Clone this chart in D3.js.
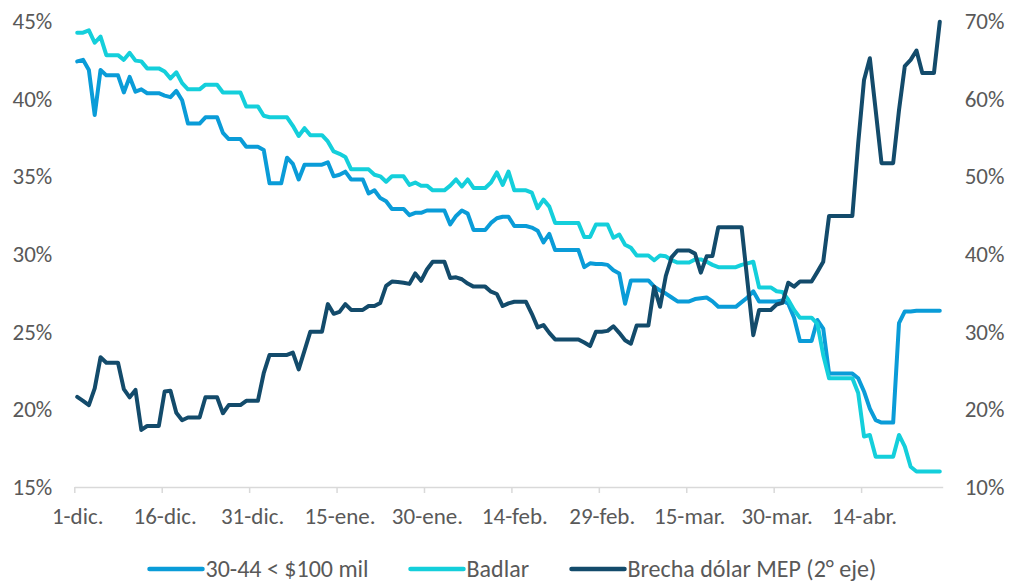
<!DOCTYPE html>
<html>
<head>
<meta charset="utf-8">
<script src="https://cdn.jsdelivr.net/npm/d3@7/dist/d3.min.js"></script>
<style>
  body { margin: 0; background: #fff; }
  svg text { font-family: Carlito, Calibri, Lato, sans-serif; fill: #595959; }
</style>
</head>
<body>
<svg id="chart" width="1011" height="585"></svg>
<script>
// daily values from 1-dic. (index 0) to 28-abr. (index 148)
const tickLabels = ["1-dic.", "16-dic.", "31-dic.", "15-ene.", "30-ene.", "14-feb.", "29-feb.", "15-mar.", "30-mar.", "14-abr."];
const tickEvery = 15;

const rate3044 = [
  42.4, 42.5, 41.85, 38.95, 41.85, 41.5, 41.5, 41.5, 40.4, 41.4,
  40.45, 40.6, 40.35, 40.35, 40.35, 40.2, 40.1, 40.5, 39.9, 38.4,
  38.4, 38.4, 38.8, 38.8, 38.8, 37.8, 37.4, 37.4, 37.4, 36.9,
  36.9, 36.9, 36.7, 34.55, 34.55, 34.55, 36.2, 35.8, 34.8, 35.75,
  35.75, 35.75, 35.75, 35.9, 35.0, 35.1, 35.3, 34.8, 34.8, 34.8,
  33.9, 34.1, 33.6, 33.4, 32.9, 32.9, 32.9, 32.5, 32.65, 32.65,
  32.8, 32.8, 32.8, 32.8, 31.9, 32.45, 32.8, 32.6, 31.55, 31.55,
  31.55, 32.0, 32.3, 32.4, 32.4, 31.8, 31.8, 31.8, 31.7, 31.5,
  30.75, 31.3, 30.25, 30.25, 30.25, 30.25, 30.25, 29.15, 29.4, 29.35,
  29.35, 29.3, 28.95, 28.75, 26.8, 28.3, 28.3, 28.3, 28.3, 27.9,
  27.65, 27.45, 27.2, 26.95, 26.95, 26.95, 27.1, 27.15, 27.2, 26.95,
  26.6, 26.6, 26.6, 26.6, 26.9, 27.2, 27.6, 26.95, 26.95, 26.95,
  26.95, 27.0, 26.8, 25.9, 24.4, 24.4, 24.4, 25.75, 25.2, 22.3,
  22.3, 22.3, 22.3, 22.3, 22.0, 21.15, 20.05, 19.3, 19.15, 19.15,
  19.15, 25.55, 26.3, 26.3, 26.35, 26.35, 26.35, 26.35, 26.35
];

const badlar = [
  44.25, 44.25, 44.4, 43.6, 44.0, 42.8, 42.8, 42.8, 42.5, 42.95,
  42.45, 42.4, 41.95, 41.95, 41.95, 41.75, 41.3, 41.7, 41.0, 40.6,
  40.6, 40.6, 40.9, 40.9, 40.9, 40.4, 40.4, 40.4, 40.4, 39.5,
  39.5, 39.5, 38.9, 38.8, 38.8, 38.8, 38.8, 38.25, 37.6, 38.1,
  37.65, 37.65, 37.65, 37.25, 36.6, 36.45, 36.25, 35.45, 35.45, 35.45,
  35.45, 35.1, 35.0, 34.65, 35.0, 35.0, 35.0, 34.45, 34.6, 34.4,
  34.4, 34.1, 34.1, 34.1, 34.4, 34.8, 34.35, 34.8, 34.25, 34.25,
  34.25, 34.6, 35.25, 34.45, 35.3, 34.1, 34.1, 34.1, 33.95, 32.95,
  33.5, 33.05, 32.0, 32.0, 32.0, 32.0, 32.0, 31.1, 31.1, 31.9,
  31.9, 31.9, 31.05, 31.25, 30.6, 30.4, 29.9, 29.9, 29.9, 29.6,
  29.9, 29.85, 29.6, 29.45, 29.45, 29.45, 29.65, 29.65, 29.5, 29.3,
  29.15, 29.15, 29.15, 29.15, 29.3, 29.4, 29.5, 27.85, 27.85, 27.85,
  27.6, 27.55, 27.05, 26.4, 25.9, 25.9, 25.9, 25.5, 23.5, 22.0,
  22.0, 22.0, 22.0, 22.0, 21.05, 18.25, 18.35, 16.95, 16.95, 16.95,
  16.95, 18.35, 17.6, 16.3, 16.0, 16.0, 16.0, 16.0, 16.0
];

// second axis
const brecha = [
  21.6, 21.1, 20.55, 22.7, 26.7, 26.0, 26.0, 26.0, 22.6, 21.55,
  22.5, 17.35, 17.85, 17.85, 17.85, 22.3, 22.4, 19.55, 18.6, 18.95,
  18.95, 18.95, 21.55, 21.55, 21.55, 19.5, 20.55, 20.55, 20.55, 21.1,
  21.1, 21.1, 24.65, 27.0, 27.0, 27.0, 27.0, 27.3, 25.15, 27.55,
  30.0, 30.0, 30.0, 33.55, 32.3, 32.55, 33.55, 32.8, 32.8, 32.8,
  33.3, 33.3, 33.7, 35.9, 36.45, 36.4, 36.3, 36.15, 37.5, 36.55,
  38.0, 39.0, 39.0, 39.0, 36.9, 37.0, 36.75, 36.2, 35.8, 35.8,
  35.8, 35.15, 34.85, 33.3, 33.65, 33.85, 33.85, 33.85, 32.3, 30.55,
  30.85, 29.85, 29.0, 29.0, 29.0, 29.0, 29.0, 28.6, 28.15, 30.0,
  30.0, 30.1, 30.7, 29.85, 28.9, 28.45, 30.8, 30.8, 30.8, 35.8,
  33.2, 37.2, 39.6, 40.45, 40.45, 40.45, 40.05, 37.6, 39.7, 39.75,
  43.45, 43.45, 43.45, 43.45, 43.45, 36.45, 29.55, 32.8, 32.8, 32.8,
  33.5, 33.7, 36.3, 35.8, 36.45, 36.45, 36.45, 37.7, 39.0, 44.9,
  44.9, 44.9, 44.9, 44.9, 54.25, 62.4, 65.2, 58.5, 51.7, 51.7,
  51.7, 58.5, 64.2, 65.0, 66.2, 63.3, 63.3, 63.3, 69.9
];

const leftTicks = [15, 20, 25, 30, 35, 40, 45];
const rightTicks = [10, 20, 30, 40, 50, 60, 70];
const seriesNames = ["30-44 < $100 mil", "Badlar", "Brecha dólar MEP (2° eje)"];
const colours = ["#0a9cd8", "#14cfdb", "#134b6b"];

(function(){

  const svg = d3.select("#chart");
  const fontSize = 23;

  const nDays = rate3044.length;
  const plot = {left: 74.3, right: 942.7, top: 21, bottom: 487};

  // one slot per day, point in the middle of its slot
  const xScale = d3.scaleLinear().domain([0, nDays]).range([plot.left, plot.right]);
  const yLeft = d3.scaleLinear().domain([15, 45]).range([plot.bottom, plot.top]);
  const yRight = d3.scaleLinear().domain([10, 70]).range([plot.bottom, plot.top]);
  const half = (xScale(1) - xScale(0)) / 2;

  // left axis
  const gLeft = svg.append("g")
    .attr("transform", "translate(" + plot.left + ",0)")
    .call(d3.axisLeft(yLeft).tickValues(leftTicks).tickFormat(d => d + "%").tickSize(0).tickPadding(22));
  gLeft.select(".domain").remove();

  // right axis
  const gRight = svg.append("g")
    .attr("transform", "translate(" + plot.right + ",0)")
    .call(d3.axisRight(yRight).tickValues(rightTicks).tickFormat(d => d + "%").tickSize(0).tickPadding(22));
  gRight.select(".domain").remove();

  svg.selectAll(".tick text").style("font-size", fontSize + "px").attr("fill", "#595959");

  // bottom axis
  const gBottom = svg.append("g")
    .attr("transform", "translate(0," + plot.bottom + ")")
    .call(d3.axisBottom(xScale)
      .tickValues(d3.range(0, nDays - 1, tickEvery))
      .tickFormat((d, i) => tickLabels[i])
      .tickSize(6)
      .tickSizeOuter(0)
      .tickPadding(15));
  gBottom.select(".domain").attr("stroke", "#d9d9d9").attr("stroke-width", 1.5);
  gBottom.selectAll(".tick line").attr("stroke", "#d9d9d9").attr("stroke-width", 1.5);
  gBottom.selectAll(".tick text")
    .attr("x", half)
    .style("font-size", fontSize + "px")
    .attr("fill", "#595959");

  // lines
  const series = [
    {values: rate3044, y: yLeft},
    {values: badlar, y: yLeft},
    {values: brecha, y: yRight}
  ];

  series.forEach((s, k) => {
    const line = d3.line()
      .x((d, i) => xScale(i) + half)
      .y(d => s.y(d))
      .curve(d3.curveLinear);

    svg.append("path")
      .datum(s.values)
      .attr("fill", "none")
      .attr("stroke", colours[k])
      .attr("stroke-width", 4)
      .attr("stroke-linejoin", "round")
      .attr("stroke-linecap", "round")
      .attr("d", line);
  });

  // legend
  const legendX = [149.5, 410.5, 571.5];
  const legendY = 569;
  const legend = svg.append("g");

  seriesNames.forEach((name, k) => {
    legend.append("line")
      .attr("x1", legendX[k]).attr("x2", legendX[k] + 53)
      .attr("y1", legendY).attr("y2", legendY)
      .attr("stroke", colours[k])
      .attr("stroke-width", 4.5)
      .attr("stroke-linecap", "round");

    legend.append("text")
      .attr("x", legendX[k] + 56)
      .attr("y", legendY)
      .attr("dy", "0.35em")
      .style("font-size", "24px")
      .text(name);
  });

})();
</script>
</body>
</html>
